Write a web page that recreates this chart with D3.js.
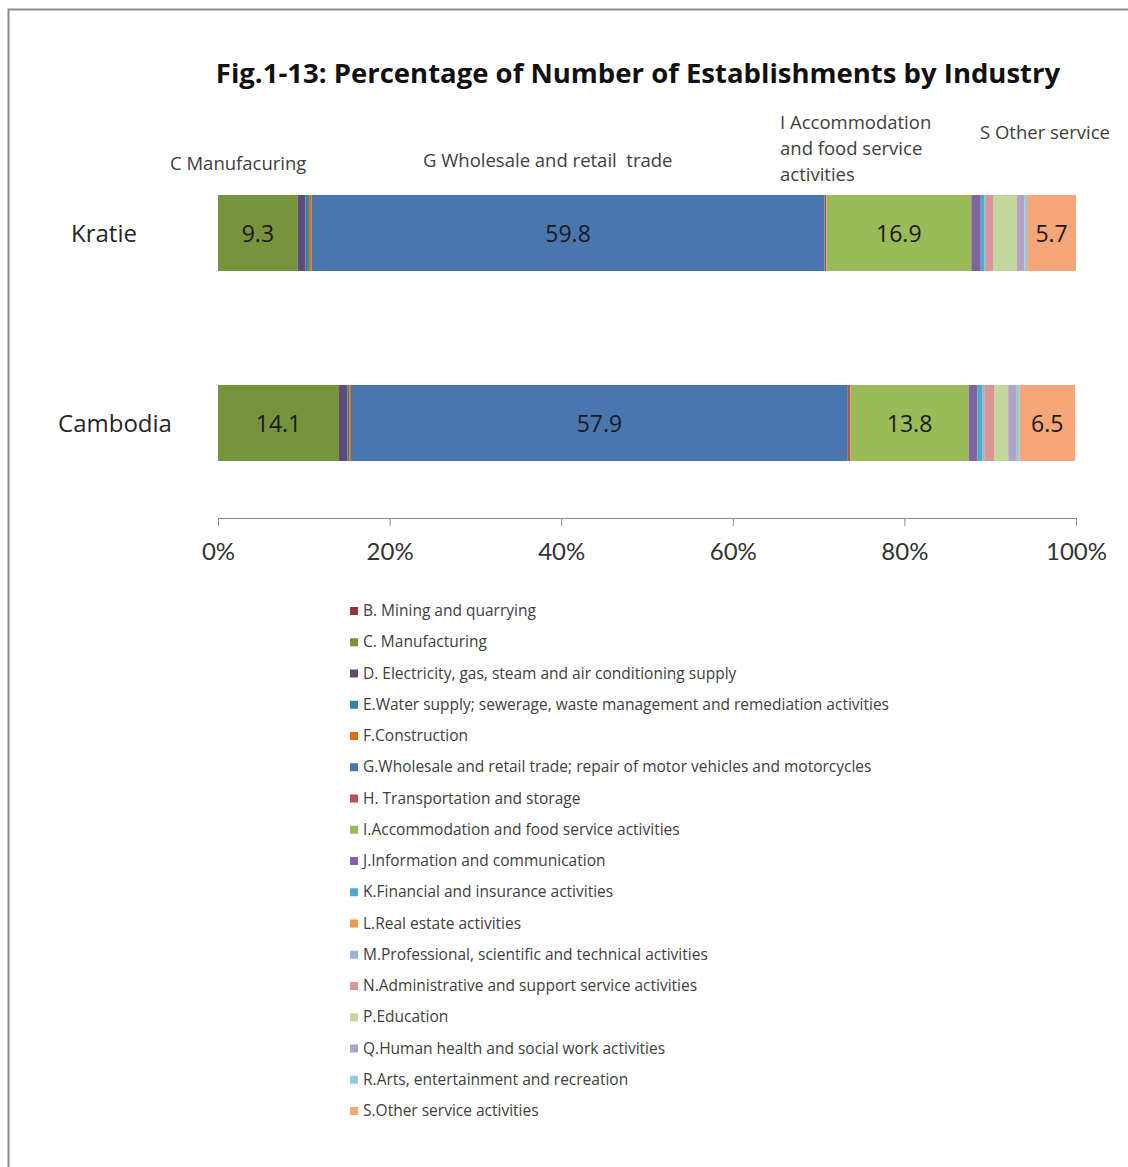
<!DOCTYPE html>
<html>
<head>
<meta charset="utf-8">
<script src="https://cdn.jsdelivr.net/npm/d3@7"></script>
<style>
  body { margin: 0; background: #fff; }
  svg { font-family: "Open Sans", Lato, sans-serif; }
</style>
</head>
<body>
<svg width="1128" height="1167"></svg>
<script>
// chart data
var regions = ["Kratie", "Cambodia"];
var industries = [
  "B. Mining and quarrying",
  "C. Manufacturing",
  "D. Electricity, gas, steam and air conditioning supply",
  "E.Water supply; sewerage, waste management and remediation activities",
  "F.Construction",
  "G.Wholesale and retail trade; repair of motor vehicles and motorcycles",
  "H. Transportation and storage",
  "I.Accommodation and food service activities",
  "J.Information and communication",
  "K.Financial and insurance activities",
  "L.Real estate activities",
  "M.Professional, scientific and technical activities",
  "N.Administrative and support service activities",
  "P.Education",
  "Q.Human health and social work activities",
  "R.Arts, entertainment and recreation",
  "S.Other service activities"
];
var kratieValues   = [0.0, 9.3, 0.9, 0.4, 0.3, 59.8, 0.2, 16.9, 1.1, 0.4, 0.0, 0.2, 0.9, 2.7, 0.9, 0.3, 5.7];
var cambodiaValues = [0.0, 14.1, 1.0, 0.2, 0.2, 57.9, 0.3, 13.8, 1.0, 0.6, 0.0, 0.2, 1.2, 1.6, 0.9, 0.4, 6.5];
var colors = ["#953735", "#77933c", "#604a7b", "#31859c", "#e46c0a", "#4a76b0", "#c0504d", "#9bbb59",
              "#8064a2", "#4bacc6", "#f79646", "#95b3d7", "#d99694", "#c3d69b", "#b3a2c7", "#93cddd", "#f6a679"];
var labelledIdx = [1, 5, 7, 16]; // segments that carry a value label
var tickValues = [0, 20, 40, 60, 80, 100];
var annotations = [
  { lines: ["C Manufacuring"], x: 170, y: 170 },
  { lines: ["G Wholesale and retail  trade"], x: 423, y: 167 },
  { lines: ["I Accommodation", "and food service", "activities"], x: 780, y: 129 },
  { lines: ["S Other service"], x: 980, y: 139 }
];

var svg = d3.select("svg");

// outer frame
svg.append("rect")
  .attr("x", 8.5).attr("y", 9.5)
  .attr("width", 1140).attr("height", 1180)
  .attr("fill", "none")
  .attr("stroke", "#8a8a8a")
  .attr("stroke-width", 2);

// title
svg.append("text")
  .attr("x", 638).attr("y", 83)
  .attr("text-anchor", "middle")
  .style("font-size", "27.5px")
  .style("font-weight", "bold")
  .attr("fill", "#111")
  .text("Fig.1-13: Percentage of Number of Establishments by Industry");

var xScale = d3.scaleLinear().domain([0, 100]).range([218, 1076]);
var yScale = d3.scaleBand().domain(regions).range([138, 518]).paddingInner(0.6).paddingOuter(0.3);

var rows = [
  { region: "Kratie", values: kratieValues },
  { region: "Cambodia", values: cambodiaValues }
];

rows.forEach(function (row) {
  var cum = 0;
  var segs = row.values.map(function (v, i) {
    var s = { i: i, x0: cum, x1: cum + v, v: v };
    cum += v;
    return s;
  });

  var g = svg.append("g");
  g.selectAll("rect")
    .data(segs)
    .enter()
    .append("rect")
    .attr("x", function (d) { return xScale(d.x0); })
    .attr("y", yScale(row.region))
    .attr("width", function (d) { return xScale(d.x1) - xScale(d.x0); })
    .attr("height", yScale.bandwidth())
    .attr("fill", function (d) { return colors[d.i]; });

  g.selectAll("text")
    .data(segs.filter(function (d) { return labelledIdx.indexOf(d.i) >= 0; }))
    .enter()
    .append("text")
    .attr("x", function (d) { return (xScale(d.x0) + xScale(d.x1)) / 2; })
    .attr("y", yScale(row.region) + yScale.bandwidth() / 2 + 9)
    .attr("text-anchor", "middle")
    .style("font-size", "23px")
    .attr("fill", "#1a1a1a")
    .text(function (d) { return d.v.toFixed(1); });

  // category label
  svg.append("text")
    .attr("x", row.region === "Kratie" ? 104 : 115)
    .attr("y", yScale(row.region) + yScale.bandwidth() / 2 + 9)
    .attr("text-anchor", "middle")
    .style("font-size", "24px")
    .attr("fill", "#262626")
    .text(row.region);
});

// x axis
var xAxis = d3.axisBottom(xScale)
  .tickValues(tickValues)
  .tickSize(8)
  .tickFormat(function (d) { return d + "%"; });

var axisG = svg.append("g")
  .attr("transform", "translate(0,518)")
  .call(xAxis);
axisG.select(".domain").attr("stroke", "#8c8c8c").attr("d", "M218,0.5H1076");
axisG.selectAll(".tick line").attr("stroke", "#8c8c8c");
axisG.selectAll(".tick text")
  .attr("y", 34)
  .attr("dy", "0.32em")
  .style("font-size", "24px")
  .style("font-family", "Lato, sans-serif")
  .attr("fill", "#333");

// annotations above bars
annotations.forEach(function (a) {
  var t = svg.append("text")
    .attr("x", a.x).attr("y", a.y)
    .style("font-size", "18.5px")
    .style("white-space", "pre")
    .attr("fill", "#404040");
  a.lines.forEach(function (line, k) {
    t.append("tspan").attr("x", a.x).attr("dy", k === 0 ? 0 : 26).text(line);
  });
});

// legend
var legendY = d3.scalePoint().domain(industries).range([611, 1111]);
var legend = svg.append("g");
var items = legend.selectAll("g")
  .data(industries)
  .enter()
  .append("g")
  .attr("transform", function (d) { return "translate(350," + legendY(d) + ")"; });
items.append("rect")
  .attr("x", 0).attr("y", -4)
  .attr("width", 8).attr("height", 8)
  .attr("fill", function (d, i) { return colors[i]; });
items.append("text")
  .attr("x", 13).attr("y", 5)
  .style("font-size", "15.5px")
  .attr("fill", "#404040")
  .text(function (d) { return d; });
</script>
</body>
</html>
